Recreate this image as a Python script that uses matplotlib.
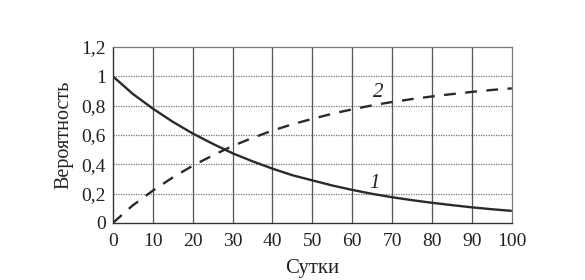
import matplotlib
matplotlib.use("Agg")
import matplotlib.pyplot as plt

days = [0, 5, 10, 15, 20, 25, 30, 35, 40, 45, 50, 55, 60, 65, 70, 75, 80, 85, 90, 95, 100]
curve1 = [1.0, 0.88, 0.78, 0.69, 0.61, 0.54, 0.475, 0.42, 0.37, 0.325, 0.29, 0.255, 0.225,
          0.198, 0.175, 0.155, 0.137, 0.121, 0.106, 0.093, 0.082]
curve2 = [0.0, 0.12, 0.22, 0.31, 0.39, 0.46, 0.525, 0.58, 0.63, 0.673, 0.71, 0.745, 0.775,
          0.802, 0.825, 0.845, 0.863, 0.879, 0.894, 0.907, 0.918]
xticks = [0, 10, 20, 30, 40, 50, 60, 70, 80, 90, 100]
yticks = [0, 0.2, 0.4, 0.6, 0.8, 1.0, 1.2]
ytick_labels = ["0", "0,2", "0,4", "0,6", "0,8", "1", "1,2"]

plt.rcParams['font.family'] = ['Liberation Serif', 'DejaVu Serif']

fig = plt.figure(figsize=(5.85, 2.8), dpi=100)
ax = fig.add_axes([0.193, 0.204, 0.682, 0.628])

ax.plot(days, curve1, color='#2a2a2a', lw=1.7, solid_capstyle='butt', solid_joinstyle='round')
ax.plot(days, curve2, color='#2a2a2a', lw=1.7, dashes=(5, 4))

ax.set_xlim(0, 100)
ax.set_ylim(0, 1.2)
ax.set_xticks(xticks)
ax.set_yticks(yticks)
ax.set_yticklabels(ytick_labels)
ax.tick_params(axis='x', length=0, labelsize=14, pad=7, colors='#222222')
ax.tick_params(axis='y', length=0, labelsize=14, pad=5, colors='#222222')

for x in xticks[1:-1]:
    ax.axvline(x, color='#555555', lw=0.9, zorder=0)
for y in yticks[1:-1]:
    ax.axhline(y, color='#777777', lw=0.9, ls=(0, (1, 1)), zorder=0)

for s in ['left', 'bottom']:
    ax.spines[s].set_color('#333333')
    ax.spines[s].set_linewidth(1.0)
for s in ['top', 'right']:
    ax.spines[s].set_color('#777777')
    ax.spines[s].set_linewidth(0.9)
    ax.spines[s].set_linestyle((0, (1, 1)))

ax.text(65.5, 0.27, "1", fontsize=15, style='italic', ha='center', va='center', color='#222222')
ax.text(66.5, 0.89, "2", fontsize=15, style='italic', ha='center', va='center', color='#222222')

ax.set_xlabel("Сутки", fontsize=15, color='#222222', labelpad=7)
ax.set_ylabel("Вероятность", fontsize=14.5, color='#222222', labelpad=6)

fig.savefig("out.png", dpi=100, facecolor='white')
